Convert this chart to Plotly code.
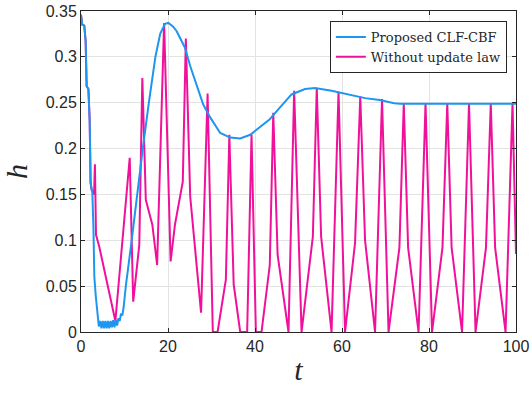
import plotly.graph_objects as go

# Proposed CLF-CBF (blue)
t_clf = [0, 0.3, 0.75, 1.07, 1.3, 1.7, 2.0, 2.2, 2.45, 2.6, 2.85, 3.07, 3.4, 3.8,
         4.1, 4.4, 4.7, 5.0, 5.3, 5.6, 5.9, 6.2, 6.5, 6.8, 7.1, 7.4, 7.7, 8.0, 8.3,
         8.6, 8.9, 9.2, 9.5, 9.8, 10.3, 11.65, 12.85, 14.2, 15.6, 17.1, 18.2, 19.3,
         20.1, 21.2, 22.0, 23.9, 25.1, 26.6, 28.1, 29.7, 32.0, 34.3, 36.6, 38.9, 41.1,
         43.4, 45.4, 48.4, 51.5, 53.8, 57.6, 61.4, 65.3, 68.7, 72.0, 73.3, 80, 90, 100]
h_clf = [0.346, 0.335, 0.334, 0.317, 0.268, 0.265, 0.23, 0.163, 0.155, 0.153, 0.115, 0.06,
         0.039, 0.02,
         0.006, 0.012, 0.004, 0.012, 0.004, 0.012, 0.004, 0.012, 0.004, 0.012, 0.005, 0.013,
         0.005, 0.013, 0.007, 0.015, 0.012, 0.02, 0.018, 0.027, 0.05, 0.1, 0.15, 0.2, 0.25,
         0.3, 0.325, 0.336, 0.337, 0.333, 0.328, 0.31, 0.29, 0.27, 0.248, 0.234, 0.217,
         0.212, 0.211, 0.215, 0.223, 0.232, 0.243, 0.259, 0.265, 0.266, 0.263, 0.259, 0.255,
         0.253, 0.2495, 0.249, 0.249, 0.249, 0.249]

# Without update law (magenta)
t_wo = [0, 0.3, 0.75, 1.07, 1.3, 1.7, 2.0, 2.2, 2.45, 3.0, 3.2, 3.45, 4.2, 7.9, 11.2, 12.0,
        13.4, 14.1, 14.9, 16.4, 17.5, 19.1, 20.6, 21.6, 23.4, 24.1, 25.1, 27.6, 29.1,
        30.3, 31.4, 33.3, 34.1, 35.1, 36.6, 38.2, 39.2, 40.2, 41.5, 43.4, 44.2, 45.2,
        47.7, 49.0, 50.7, 53.3, 54.2, 55.2, 57.6, 59.2, 60.7, 63.0, 64.2, 65.3, 67.6,
        69.2, 70.7, 73.2, 74.2, 75.2, 77.6, 79.2, 80.7, 83.1, 84.2, 85.2, 87.6, 89.2,
        90.7, 93.1, 94.2, 95.2, 97.6, 99.2, 100]
h_wo = [0.346, 0.335, 0.334, 0.317, 0.268, 0.265, 0.23, 0.163, 0.155, 0.15, 0.183, 0.106,
        0.093, 0.012, 0.19, 0.033, 0.095, 0.277, 0.144, 0.117, 0.073, 0.337, 0.077, 0.117,
        0.164, 0.32, 0.148, 0.021, 0.26, 0, 0, 0.057, 0.215, 0.052, 0, 0, 0.215, 0, 0,
        0.073, 0.239, 0.084, 0, 0.263, 0, 0.104, 0.266, 0.104, 0, 0.262, 0, 0.097, 0.257,
        0.1, 0, 0.254, 0, 0.092, 0.249, 0.092, 0, 0.249, 0, 0.092, 0.249, 0.092, 0, 0.249,
        0, 0.092, 0.249, 0.092, 0, 0.249, 0.085]

x_ticks = [0, 20, 40, 60, 80, 100]
y_ticks = [0, 0.05, 0.1, 0.15, 0.2, 0.25, 0.3, 0.35]

BLUE = '#1E96F0'
PINK = '#F0119B'
AX = '#262626'

fig = go.Figure()
# magenta drawn first so the blue sits on top where they coincide at the start
fig.add_trace(go.Scatter(x=t_wo, y=h_wo, mode='lines', name='Without update law',
                         line=dict(color=PINK, width=2), legendrank=2))
fig.add_trace(go.Scatter(x=t_clf, y=h_clf, mode='lines', name='Proposed CLF-CBF',
                         line=dict(color=BLUE, width=2), legendrank=1))

axis_common = dict(showline=True, linecolor=AX, linewidth=1, mirror='ticks',
                   ticks='inside', ticklen=4, tickcolor=AX, automargin=False,
                   showgrid=True, gridcolor='#e3e3e3', gridwidth=1, zeroline=False,
                   tickfont=dict(family='Liberation Sans, Arial', size=16, color=AX))

fig.update_xaxes(range=[0, 100], tickvals=x_ticks,
                 title=dict(text='<i>t</i>', standoff=4,
                            font=dict(family='Liberation Serif', size=30, color=AX)),
                 **axis_common)
fig.update_yaxes(range=[0, 0.35], tickvals=y_ticks,
                 title=dict(text='<i>h</i>', standoff=10,
                            font=dict(family='Liberation Serif', size=30, color=AX)),
                 **axis_common)

fig.update_layout(
    width=532, height=399,
    margin=dict(l=81, r=16, t=11, b=67),
    plot_bgcolor='white', paper_bgcolor='white',
    showlegend=True,
    legend=dict(x=0.979, y=0.969, xanchor='right', yanchor='top',
                bgcolor='white', bordercolor=AX, borderwidth=1,
                font=dict(family='DejaVu Serif', size=13, color=AX),
                tracegroupgap=0),
)

# drop the default page margin so the figure sits at the window origin
fig.write_html("out.html", config={'displayModeBar': False},
               post_script="document.body.style.margin='0';")
